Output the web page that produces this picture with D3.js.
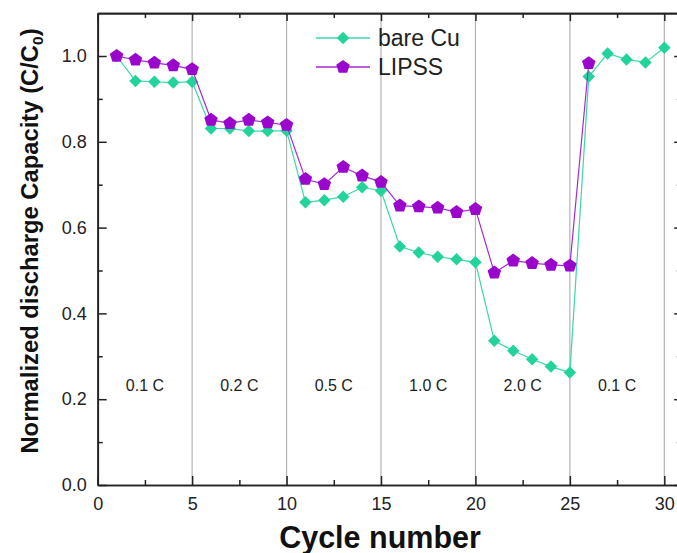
<!DOCTYPE html>
<html>
<head>
<meta charset="utf-8">
<script src="https://cdn.jsdelivr.net/npm/d3@7"></script>
<style>
    body { margin: 0; background: #fff; }
    svg { display: block; font-family: "Liberation Sans", Arial, sans-serif; }
</style>
</head>
<body>
<div id="chart"></div>
<script>
// cycle numbers and normalized capacity
const cyclesCu = [1, 2, 3, 4, 5, 6, 7, 8, 9, 10, 11, 12, 13, 14, 15, 16, 17, 18, 19, 20, 21, 22, 23, 24, 25, 26, 27, 28, 29, 30];
const bareCu = [1.0, 0.942, 0.940, 0.938, 0.940, 0.831, 0.831, 0.825, 0.825, 0.826, 0.659, 0.664, 0.672, 0.694, 0.686, 0.556, 0.542, 0.532, 0.526, 0.519, 0.336, 0.313, 0.293, 0.276, 0.262, 0.952, 1.006, 0.992, 0.985, 1.019];
const cyclesLipss = [1, 2, 3, 4, 5, 6, 7, 8, 9, 10, 11, 12, 13, 14, 15, 16, 17, 18, 19, 20, 21, 22, 23, 24, 25, 26];
const lipss = [1.0, 0.991, 0.984, 0.978, 0.969, 0.851, 0.843, 0.851, 0.845, 0.839, 0.713, 0.701, 0.741, 0.721, 0.706, 0.651, 0.649, 0.646, 0.636, 0.643, 0.495, 0.523, 0.517, 0.513, 0.511, 0.983];

// C-rate steps, each 5 cycles long
const rateLabels = ['0.1 C', '0.2 C', '0.5 C', '1.0 C', '2.0 C', '0.1 C'];
const rateStart = [0, 5, 10, 15, 20, 25];

const xMajor = [0, 5, 10, 15, 20, 25, 30];
const xMinor = [2.5, 7.5, 12.5, 17.5, 22.5, 27.5];
const yMajor = [0, 0.2, 0.4, 0.6, 0.8, 1.0];
const yMinor = [0.1, 0.3, 0.5, 0.7, 0.9];

const seriesNames = ['bare Cu', 'LIPSS'];

document.addEventListener('DOMContentLoaded', function () {
    const w = 677,
        h = 553;

    const green = '#22d39c',
        greenLine = '#3ad8aa',
        purple = '#9a06cc',
        purpleLine = '#a52ad4';

    const svg = d3.select('#chart')
        .append('svg')
        .attr('width', w)
        .attr('height', h);

    const xScale = d3.scaleLinear()
        .domain([0, 31])
        .range([97.7, 97.7 + 31 * 18.887]);

    const yScale = d3.scaleLinear()
        .domain([0, 1.1])
        .range([485, 13.1]);

    const x0 = xScale(0), x1 = xScale(31), y0 = yScale(0), y1 = yScale(1.1);

    // vertical grid lines at the rate changes
    svg.append('g')
        .selectAll('line')
        .data(xMajor.slice(1))
        .enter()
        .append('line')
        .attr('x1', d => xScale(d))
        .attr('x2', d => xScale(d))
        .attr('y1', y1)
        .attr('y2', y0)
        .attr('stroke', '#b4b4b4')
        .attr('stroke-width', 1.2);

    // rate labels
    svg.append('g')
        .selectAll('text')
        .data(rateLabels)
        .enter()
        .append('text')
        .attr('x', (d, i) => xScale(rateStart[i] + 2.5))
        .attr('y', yScale(0.22))
        .attr('text-anchor', 'middle')
        .attr('font-size', 16)
        .attr('fill', '#222')
        .text(d => d);

    // axes
    const fmt = d3.format('.1f');

    function styleAxis(g) {
        g.selectAll('.domain').attr('stroke', '#222').attr('stroke-width', 1.7);
        g.selectAll('.tick line').attr('stroke', '#222').attr('stroke-width', 1.5);
        g.selectAll('.tick text').attr('fill', '#222').attr('font-size', 18).attr('font-family', '"Liberation Sans", Arial, sans-serif');
    }

    svg.append('g')
        .attr('transform', `translate(0,${y0})`)
        .call(d3.axisBottom(xScale).tickValues(xMajor).tickFormat(d3.format('d')).tickSizeInner(-9).tickSizeOuter(0).tickPadding(12))
        .call(styleAxis);
    svg.append('g')
        .attr('transform', `translate(0,${y0})`)
        .call(d3.axisBottom(xScale).tickValues(xMinor).tickFormat('').tickSizeInner(-5).tickSizeOuter(0))
        .call(styleAxis);

    svg.append('g')
        .attr('transform', `translate(0,${y1})`)
        .call(d3.axisTop(xScale).tickValues(xMajor).tickFormat('').tickSizeInner(-8).tickSizeOuter(0))
        .call(styleAxis);
    svg.append('g')
        .attr('transform', `translate(0,${y1})`)
        .call(d3.axisTop(xScale).tickValues(xMinor).tickFormat('').tickSizeInner(-5).tickSizeOuter(0))
        .call(styleAxis);

    svg.append('g')
        .attr('transform', `translate(${x0},0)`)
        .call(d3.axisLeft(yScale).tickValues(yMajor).tickFormat(fmt).tickSizeInner(-9).tickSizeOuter(0).tickPadding(11))
        .call(styleAxis);
    svg.append('g')
        .attr('transform', `translate(${x0},0)`)
        .call(d3.axisLeft(yScale).tickValues(yMinor).tickFormat('').tickSizeInner(-5).tickSizeOuter(0))
        .call(styleAxis);

    // right axis sits just outside the cropped picture, only its ticks show
    svg.append('g')
        .attr('transform', `translate(${x1},0)`)
        .call(d3.axisRight(yScale).tickValues(yMajor).tickFormat('').tickSizeInner(-9).tickSizeOuter(0))
        .call(styleAxis);
    svg.append('g')
        .attr('transform', `translate(${x1},0)`)
        .call(d3.axisRight(yScale).tickValues(yMinor).tickFormat('').tickSizeInner(-7).tickSizeOuter(0))
        .call(styleAxis)
        .selectAll('.tick line').attr('stroke', '#bbb');

    // markers
    const pentagon = {
        draw: function (ctx, size) {
            const r = Math.sqrt(size / 2.378);
            for (let i = 0; i < 5; i++) {
                const a = -Math.PI / 2 + i * 2 * Math.PI / 5;
                if (i === 0) ctx.moveTo(r * Math.cos(a), r * Math.sin(a));
                else ctx.lineTo(r * Math.cos(a), r * Math.sin(a));
            }
            ctx.closePath();
        }
    };
    const diamond = d3.symbol().type(d3.symbolSquare).size(78);
    const penta = d3.symbol().type(pentagon).size(120);

    const line = d3.line()
        .x(d => xScale(d[0]))
        .y(d => yScale(d[1]));

    const cuData = cyclesCu.map((c, i) => [c, bareCu[i]]);
    const lipssData = cyclesLipss.map((c, i) => [c, lipss[i]]);

    svg.append('path')
        .datum(cuData)
        .attr('d', line)
        .attr('fill', 'none')
        .attr('stroke', greenLine)
        .attr('stroke-width', 1.2);

    svg.append('g')
        .selectAll('path')
        .data(cuData)
        .enter()
        .append('path')
        .attr('d', diamond)
        .attr('transform', d => `translate(${xScale(d[0])},${yScale(d[1])}) rotate(45)`)
        .attr('fill', green);

    svg.append('path')
        .datum(lipssData)
        .attr('d', line)
        .attr('fill', 'none')
        .attr('stroke', purpleLine)
        .attr('stroke-width', 1.2);

    svg.append('g')
        .selectAll('path')
        .data(lipssData)
        .enter()
        .append('path')
        .attr('d', penta)
        .attr('transform', d => `translate(${xScale(d[0])},${yScale(d[1])})`)
        .attr('fill', purple);

    // legend
    const legend = svg.append('g').attr('transform', 'translate(316,38)');
    const legColors = [[greenLine, green, diamond, 45], [purpleLine, purple, penta, 0]];
    seriesNames.forEach(function (name, i) {
        const row = legend.append('g').attr('transform', `translate(0,${i * 29})`);
        row.append('line')
            .attr('x1', 0).attr('x2', 54)
            .attr('stroke', legColors[i][0])
            .attr('stroke-width', 1.3);
        row.append('path')
            .attr('d', legColors[i][2])
            .attr('transform', `translate(27,0) rotate(${legColors[i][3]})`)
            .attr('fill', legColors[i][1]);
        row.append('text')
            .attr('x', 62)
            .attr('y', 8)
            .attr('font-size', 23)
            .attr('fill', '#222')
            .text(name);
    });

    // axis titles
    svg.append('text')
        .attr('x', 380)
        .attr('y', 548)
        .attr('text-anchor', 'middle')
        .attr('font-size', 30.5)
        .attr('font-weight', 'bold')
        .attr('fill', '#111')
        .text('Cycle number');

    const yt = svg.append('text')
        .attr('transform', 'translate(37.5,241) rotate(-90)')
        .attr('text-anchor', 'middle')
        .attr('font-size', 23.8)
        .attr('font-weight', 'bold')
        .attr('fill', '#111');
    yt.append('tspan').text('Normalized discharge Capacity (C/C');
    yt.append('tspan').attr('font-size', 15.5).attr('dy', 5).text('0');
    yt.append('tspan').attr('dy', -5).text(')');
});
</script>
</body>
</html>
